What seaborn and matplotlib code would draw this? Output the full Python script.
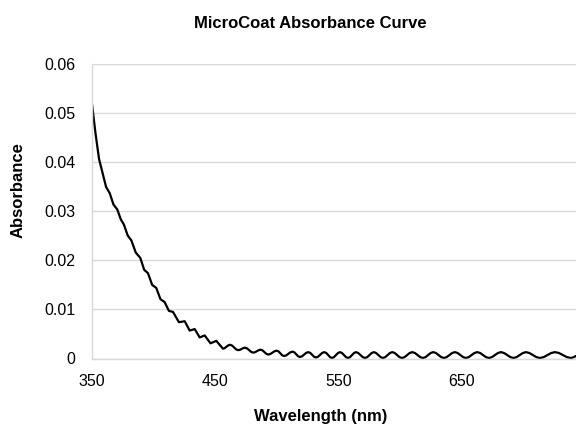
import numpy as np
import pandas as pd
import matplotlib
matplotlib.use("Agg")
import matplotlib.pyplot as plt
import seaborn as sns

# Absorbance curve: the steep part as turning points,
# the flat fringe part with extra points on the shoulders of each fringe
wavelength_nm = [
    350.0, 352.8, 355.7, 358.5, 361.4, 364.4, 367.4, 370.5, 373.3, 375.9,
    378.9, 381.9, 385.5, 389.2, 392.3, 395.4, 398.8, 402.1, 405.5, 408.9,
    412.4, 415.7, 420.5, 425.2, 429.2, 433.3, 437.3, 441.4, 446.1, 450.8,
    456.2, 457.6, 460.5, 461.9, 463.6, 466.9, 468.6, 470.0, 472.7, 474.1,
    475.8, 479.1, 480.8, 482.3, 485.3, 486.8, 488.3, 491.4, 492.9, 494.6,
    498.1, 499.8, 501.3, 504.2, 505.7, 507.5, 510.9, 512.7, 514.2, 517.1,
    518.6, 520.3, 523.7, 525.4, 527.0, 530.1, 531.6, 533.3, 536.7, 538.4,
    540.0, 543.1, 544.6, 546.2, 549.5, 551.1, 552.7, 556.0, 557.6, 559.2,
    562.5, 564.1, 565.9, 569.6, 571.4, 573.2, 576.8, 578.6, 580.4, 584.1,
    585.9, 587.8, 591.6, 593.5, 595.5, 599.4, 601.4, 603.5, 607.6, 609.7,
    611.9, 616.2, 618.4, 620.5, 624.6, 626.7, 628.9, 633.2, 635.4, 637.6,
    642.1, 644.3, 646.5, 651.0, 653.2, 655.5, 660.1, 662.4, 664.8, 669.5,
    671.9, 674.3, 679.2, 681.6, 684.2, 689.3, 691.8, 694.3, 699.4, 701.9,
    704.7, 710.4, 713.2, 716.3, 722.4, 725.4, 728.7, 735.1, 738.4, 740.4,
    742.4,
]
absorbance = [
    0.0519, 0.0460, 0.0407, 0.0379, 0.0350, 0.0337, 0.0314, 0.0304, 0.0284, 0.0273,
    0.0251, 0.0241, 0.0216, 0.0205, 0.0181, 0.0174, 0.0150, 0.0144, 0.0121, 0.0115,
    0.0097, 0.0095, 0.0074, 0.0076, 0.0057, 0.0060, 0.0043, 0.0047, 0.0031, 0.0036,
    0.00200, 0.00212, 0.00268, 0.00280, 0.00264, 0.00186, 0.00170, 0.00177, 0.00213, 0.00220,
    0.00205, 0.00135, 0.00120, 0.00129, 0.00171, 0.00180, 0.00165, 0.00095, 0.00080, 0.00092,
    0.00148, 0.00160, 0.00144, 0.00066, 0.00050, 0.00063, 0.00127, 0.00140, 0.00124, 0.00046,
    0.00030, 0.00045, 0.00115, 0.00130, 0.00114, 0.00036, 0.00020, 0.00036, 0.00114, 0.00130,
    0.00112, 0.00028, 0.00010, 0.00028, 0.00112, 0.00130, 0.00112, 0.00028, 0.00010, 0.00028,
    0.00112, 0.00130, 0.00112, 0.00028, 0.00010, 0.00028, 0.00112, 0.00130, 0.00112, 0.00028,
    0.00010, 0.00028, 0.00112, 0.00130, 0.00112, 0.00028, 0.00010, 0.00028, 0.00112, 0.00130,
    0.00112, 0.00028, 0.00010, 0.00028, 0.00112, 0.00130, 0.00112, 0.00028, 0.00010, 0.00028,
    0.00112, 0.00130, 0.00112, 0.00028, 0.00010, 0.00028, 0.00112, 0.00130, 0.00112, 0.00028,
    0.00010, 0.00028, 0.00112, 0.00130, 0.00112, 0.00028, 0.00010, 0.00028, 0.00112, 0.00130,
    0.00112, 0.00028, 0.00010, 0.00028, 0.00112, 0.00130, 0.00112, 0.00028, 0.00010, 0.00025,
    0.00050,
]

x_ticks = [350, 450, 550, 650]
y_ticks = [0, 0.01, 0.02, 0.03, 0.04, 0.05, 0.06]
y_tick_labels = ["0", "0.01", "0.02", "0.03", "0.04", "0.05", "0.06"]

df = pd.DataFrame({"Wavelength": wavelength_nm, "Absorbance": absorbance})

sns.set_theme(style="white")
plt.rcParams["font.family"] = ["Liberation Sans", "DejaVu Sans"]
plt.rcParams["text.color"] = "black"

fig = plt.figure(figsize=(5.76, 4.30), dpi=100)
ax = fig.add_axes([92 / 576, 1 - 358.5 / 430, 1 - 92 / 576, (358.5 - 64.3) / 430])

sns.lineplot(data=df, x="Wavelength", y="Absorbance", color="black",
             linewidth=1.6, ax=ax, sort=False)
ax.lines[0].set_solid_joinstyle("round")

ax.set_xlim(350, 742.5)
ax.set_ylim(0, 0.06)
ax.set_xticks(x_ticks)
ax.set_xticklabels([str(t) for t in x_ticks])
ax.set_yticks(y_ticks)
ax.set_yticklabels(y_tick_labels)
ax.tick_params(axis="both", length=0, labelsize=11.5, colors="black")
ax.tick_params(axis="y", pad=12)
ax.tick_params(axis="x", pad=11)

ax.yaxis.grid(True, color="#d9d9d9", linewidth=1)
ax.set_axisbelow(True)
for side in ["top", "right"]:
    ax.spines[side].set_visible(False)
for side in ["left", "bottom"]:
    ax.spines[side].set_color("#d9d9d9")
    ax.spines[side].set_linewidth(1)

ax.set_xlabel("")
ax.set_ylabel("")
fig.text(310 / 576, 1 - 23 / 430, "MicroCoat Absorbance Curve",
         ha="center", va="center", fontsize=12, fontweight="bold", color="black")
fig.text(321 / 576, 1 - 417 / 430, "Wavelength (nm)",
         ha="center", va="center", fontsize=12, fontweight="bold", color="black")
fig.text(18 / 576, 1 - 190 / 430, "Absorbance", rotation=90,
         ha="center", va="center", fontsize=12, fontweight="bold", color="black")

fig.savefig("out.png", dpi=100)
